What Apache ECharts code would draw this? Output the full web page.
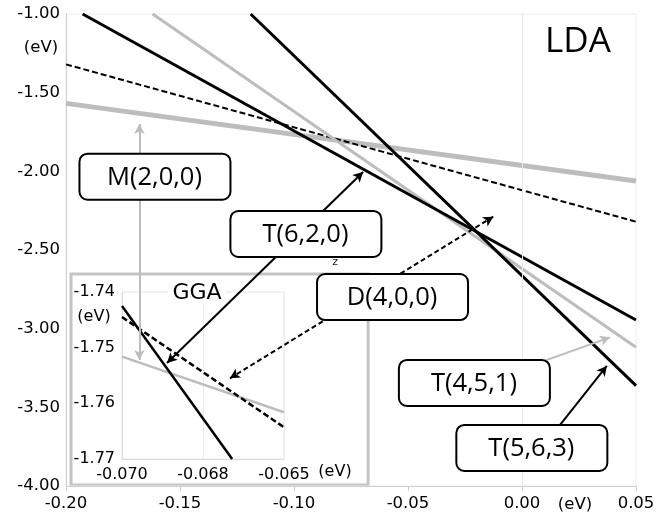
<!DOCTYPE html>
<html>
<head>
<meta charset="utf-8">
<script src="https://cdn.jsdelivr.net/npm/echarts@6/dist/echarts.min.js"></script>
<style>
html, body { margin: 0; padding: 0; background: #fff; }
#chart { width: 669px; height: 518px; }
</style>
</head>
<body>
<div id="chart"></div>
<script>
// LDA panel, each level line as its two end points [eV, eV]
const ldaM200 = [[-0.20, -1.568], [0.05, -2.061]];
const ldaD400 = [[-0.20, -1.32], [0.05, -2.32]];
const ldaT620 = [[-0.1927, -1.00], [0.05, -2.945]];
const ldaT451 = [[-0.162, -1.00], [0.05, -3.118]];
const ldaT563 = [[-0.119, -1.00], [0.05, -3.362]];

// GGA inset
const ggaM200 = [[-0.070, -1.7516], [-0.065, -1.7616]];
const ggaD400 = [[-0.070, -1.7445], [-0.065, -1.7643]];
const ggaT620 = [[-0.070, -1.7425], [-0.0666, -1.77]];

const mainXLabels = ["-0.20", "-0.15", "-0.10", "-0.05", "0.00", "0.05"];
const mainYLabels = ["-4.00", "-3.50", "-3.00", "-2.50", "-2.00", "-1.50", "-1.00"];
const insetXLabels = ["-0.070", "-0.068", "-0.065"];
const insetYLabels = ["-1.77", "-1.76", "-1.75", "-1.74"];

// annotations, in LDA axis units
const arrows = [
  { from: [-0.1678, -3.199], to: [-0.1678, -1.699], both: true, color: "#bdbdbd", dash: "solid" },
  { from: [-0.1557, -3.218], to: [-0.0697, -2.004], both: true, color: "#000", dash: "solid" },
  { from: [-0.1281, -3.3155], to: [-0.0126, -2.288], both: true, color: "#000", dash: [5, 3] },
  { from: [-0.0177, -3.347], to: [0.0386, -3.055], both: false, color: "#bdbdbd", dash: "solid" },
  { from: [0.0167, -3.612], to: [0.0372, -3.237], both: false, color: "#000", dash: "solid" }
];
const boxes = [
  { text: "M(2,0,0)", at: [-0.1612, -2.034] },
  { text: "T(6,2,0)", at: [-0.0950, -2.398] },
  { text: "D(4,0,0)", at: [-0.0570, -2.799] },
  { text: "T(4,5,1)", at: [-0.0211, -3.345] },
  { text: "T(5,6,3)", at: [0.0041, -3.758] }
];
const insetFrame = [[-0.1978, -2.6525], [-0.0675, -3.993]];

const FONT = "DejaVu Sans";
const BIG = "Open Sans";
const GRAY = "#bdbdbd";

let chart = echarts.init(document.getElementById("chart"));

function lineSeries(data, idx, color, width, type) {
  return {
    type: "line",
    xAxisIndex: idx,
    yAxisIndex: idx,
    data: data,
    symbol: "none",
    silent: true,
    animation: false,
    lineStyle: { color: color, width: width, type: type }
  };
}

let m200 = lineSeries(ldaM200, 0, GRAY, 5, "solid");
m200.markLine = {
  silent: true,
  animation: false,
  symbolSize: [8, 10],
  label: { show: false },
  data: arrows.map(function (a) {
    return [
      { coord: a.from, symbol: a.both ? "arrow" : "none", lineStyle: { color: a.color, width: 2, type: a.dash } },
      { coord: a.to, symbol: "arrow" }
    ];
  })
};
let d400 = lineSeries(ldaD400, 0, "#000", 2, [6, 3]);
d400.markLine = {
  silent: true,
  animation: false,
  symbol: ["none", "none"],
  label: { show: false },
  data: [{ xAxis: 0, lineStyle: { color: "#e8e8e8", width: 1, type: "solid" } }]
};

chart.setOption({
  backgroundColor: "#fff",
  animation: false,
  grid: [
    { left: 66, top: 14, width: 570, height: 472, show: true, borderColor: "#ececec", borderWidth: 1 },
    { left: 122, top: 292, width: 162, height: 167, show: true, borderColor: "#e6e6e6", borderWidth: 1 }
  ],
  xAxis: [
    {
      type: "value", gridIndex: 0, min: -0.2, max: 0.05, interval: 0.05,
      axisLine: { onZero: false, lineStyle: { color: "#cfcfcf", width: 1 } },
      axisTick: { show: true, length: 5, lineStyle: { color: "#cfcfcf" } },
      splitLine: { show: false },
      axisLabel: {
        margin: 9, color: "#000", fontFamily: FONT, fontSize: 16.5,
        formatter: function (v, i) { return mainXLabels[i]; }
      }
    },
    {
      type: "value", gridIndex: 1, min: -0.07, max: -0.065, interval: 0.0025,
      axisLine: { onZero: false, lineStyle: { color: "#dcdcdc", width: 1 } },
      axisTick: { show: false },
      splitLine: { show: true, lineStyle: { color: "#ececec" } },
      axisLabel: {
        margin: 8, color: "#000", fontFamily: FONT, fontSize: 16,
        formatter: function (v, i) { return insetXLabels[i]; }
      }
    }
  ],
  yAxis: [
    {
      type: "value", gridIndex: 0, min: -4, max: -1, interval: 0.5,
      axisLine: { show: true, onZero: false, lineStyle: { color: "#cfcfcf", width: 1 } },
      axisTick: { show: false },
      splitLine: { show: false },
      axisLabel: {
        margin: 6, color: "#000", fontFamily: FONT, fontSize: 16.5,
        formatter: function (v, i) { return mainYLabels[i]; }
      }
    },
    {
      type: "value", gridIndex: 1, min: -1.77, max: -1.74, interval: 0.01,
      axisLine: { show: true, onZero: false, lineStyle: { color: "#dcdcdc", width: 1 } },
      axisTick: { show: false },
      splitLine: { show: false },
      axisLabel: {
        margin: 7, color: "#000", fontFamily: FONT, fontSize: 16,
        formatter: function (v, i) { return insetYLabels[i]; }
      }
    }
  ],
  series: [
    m200,
    d400,
    lineSeries(ldaT451, 0, GRAY, 3, "solid"),
    lineSeries(ldaT620, 0, "#000", 3, "solid"),
    lineSeries(ldaT563, 0, "#000", 3, "solid"),
    lineSeries(ggaM200, 1, GRAY, 2.5, "solid"),
    lineSeries(ggaD400, 1, "#000", 2.5, [6, 3]),
    lineSeries(ggaT620, 1, "#000", 2.5, "solid")
  ]
});

// frame, boxes and loose texts go on top, placed through the LDA scales
function px(p) {
  return chart.convertToPixel({ gridIndex: 0 }, p);
}
let g = [];
let f0 = px(insetFrame[0]);
let f1 = px(insetFrame[1]);
g.push({
  type: "rect", z: -1, silent: true,
  shape: { x: f0[0], y: f0[1], width: f1[0] - f0[0], height: f1[1] - f0[1] },
  style: { fill: "none", stroke: "#c4c4c4", lineWidth: 3 }
});
boxes.forEach(function (b) {
  let c = px(b.at);
  g.push({
    type: "rect", z: 100, silent: true,
    shape: { x: c[0] - 75, y: c[1] - 23, width: 151, height: 46, r: 8 },
    style: { fill: "#fff", stroke: "#000", lineWidth: 2 }
  });
  g.push({
    type: "text", z: 101, silent: true,
    style: { text: b.text, x: c[0], y: c[1] + 1, align: "center", verticalAlign: "middle", font: "25.5px '" + BIG + "'", fill: "#000" }
  });
});
function txt(s, x, y, size, family, extra) {
  let st = { text: s, x: x, y: y, align: "center", verticalAlign: "middle", font: size + "px '" + family + "'", fill: "#000" };
  Object.assign(st, extra || {});
  g.push({ type: "text", z: 102, silent: true, style: st });
}
txt("LDA", 578, 42, 35, BIG);
txt("GGA", 197, 293, 22, FONT, { backgroundColor: "#fff", padding: [0, 4] });
txt("(eV)", 41, 48, 16.5, FONT);
txt("(eV)", 575, 505, 16.5, FONT);
txt("(eV)", 94, 317, 16, FONT);
txt("(eV)", 335, 472, 16, FONT);
let zp = px([-0.082, -2.574]);
txt("z", zp[0], zp[1], 11, FONT, { fill: "#222" });
chart.setOption({ graphic: g });
</script>
</body>
</html>
